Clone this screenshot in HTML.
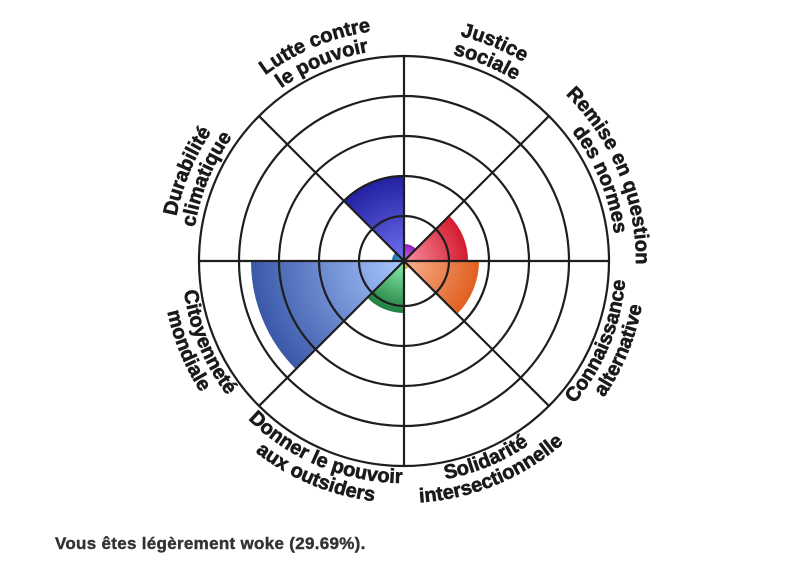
<!DOCTYPE html>
<html><head><meta charset="utf-8"><style>
html,body{margin:0;padding:0;background:#fff;width:806px;height:561px;overflow:hidden}
svg{position:absolute;left:0;top:0}
.l{font-family:"Liberation Sans",sans-serif;font-weight:bold;font-size:20px;fill:#1a1a1a;stroke:#1a1a1a;stroke-width:0.6px}
#t{position:absolute;left:55px;top:534px;font-family:"Liberation Sans",sans-serif;font-weight:bold;font-size:17px;color:#333;letter-spacing:0.3px;white-space:nowrap;-webkit-text-stroke:0.4px #333}
</style></head><body>
<svg width="806" height="561" viewBox="0 0 806 561">
<defs>
<path id="u1" d="M-200.9,-116 A232,232 0 0 1 200.9,-116"/>
<path id="u2" d="M-183.6,-106 A212,212 0 0 1 183.6,-106"/>
<path id="d1" d="M-192.3,111 A222,222 0 0 0 192.3,111"/>
<path id="d2" d="M-209.6,121 A242,242 0 0 0 209.6,121"/>
<radialGradient id="gP" gradientUnits="userSpaceOnUse" cx="0" cy="0" r="17"><stop offset="0" stop-color="#d070f0"/><stop offset="1" stop-color="#9020c0"/></radialGradient>
<radialGradient id="gR" gradientUnits="userSpaceOnUse" cx="0" cy="0" r="64"><stop offset="0" stop-color="#f890a0"/><stop offset="1" stop-color="#d41c30"/></radialGradient>
<radialGradient id="gO" gradientUnits="userSpaceOnUse" cx="0" cy="0" r="75"><stop offset="0" stop-color="#f8b090"/><stop offset="1" stop-color="#e06020"/></radialGradient>
<radialGradient id="gY" gradientUnits="userSpaceOnUse" cx="0" cy="0" r="8"><stop offset="0" stop-color="#f8e060"/><stop offset="1" stop-color="#e8b800"/></radialGradient>
<radialGradient id="gG" gradientUnits="userSpaceOnUse" cx="0" cy="0" r="52"><stop offset="0" stop-color="#90f0b0"/><stop offset="1" stop-color="#208040"/></radialGradient>
<radialGradient id="gB" gradientUnits="userSpaceOnUse" cx="0" cy="0" r="153"><stop offset="0" stop-color="#a8c8ff"/><stop offset="1" stop-color="#3a58a8"/></radialGradient>
<radialGradient id="gT" gradientUnits="userSpaceOnUse" cx="0" cy="0" r="12"><stop offset="0" stop-color="#50b0e0"/><stop offset="1" stop-color="#2070b0"/></radialGradient>
<radialGradient id="gD" gradientUnits="userSpaceOnUse" cx="0" cy="0" r="86"><stop offset="0" stop-color="#7070f0"/><stop offset="1" stop-color="#2020a0"/></radialGradient>
</defs>
<g transform="translate(404,261)">
<path d="M0,0 L0,-17 A17,17 0 0 1 12.02,-12.02Z" fill="url(#gP)"/>
<path d="M0,0 L45.25,-45.25 A64,64 0 0 1 64,0Z" fill="url(#gR)"/>
<path d="M0,0 L75,0 A75,75 0 0 1 53.03,53.03Z" fill="url(#gO)"/>
<path d="M0,0 L5.66,5.66 A8,8 0 0 1 0,8Z" fill="url(#gY)"/>
<path d="M0,0 L0,52 A52,52 0 0 1 -36.77,36.77Z" fill="url(#gG)"/>
<path d="M0,0 L-108.19,108.19 A153,153 0 0 1 -153,0Z" fill="url(#gB)"/>
<path d="M0,0 L-12,0 A12,12 0 0 1 -8.49,-8.49Z" fill="url(#gT)"/>
<path d="M0,0 L-60.81,-60.81 A86,86 0 0 1 0,-86Z" fill="url(#gD)"/>
<g fill="none" stroke="#1e1e1e" stroke-width="2.2">
<circle r="45"/><circle r="85"/><circle r="125"/><circle r="165"/><circle r="205"/>
<line x1="-205" y1="0" x2="205" y2="0"/><line x1="0" y1="-205" x2="0" y2="205"/>
<line x1="-144.96" y1="-144.96" x2="144.96" y2="144.96"/><line x1="-144.96" y1="144.96" x2="144.96" y2="-144.96"/>
</g>
<g transform="rotate(-22.5)"><text class="l"><textPath href="#u1" startOffset="50%" text-anchor="middle">Lutte contre</textPath></text><text class="l"><textPath href="#u2" startOffset="50%" text-anchor="middle">le pouvoir</textPath></text></g>
<g transform="rotate(22.5)"><text class="l"><textPath href="#u1" startOffset="50%" text-anchor="middle">Justice</textPath></text><text class="l"><textPath href="#u2" startOffset="50%" text-anchor="middle">sociale</textPath></text></g>
<g transform="rotate(67.5)"><text class="l"><textPath href="#u1" startOffset="50%" text-anchor="middle">Remise en question</textPath></text><text class="l"><textPath href="#u2" startOffset="50%" text-anchor="middle">des normes</textPath></text></g>
<g transform="rotate(-67.5)"><text class="l"><textPath href="#u1" startOffset="50%" text-anchor="middle">Durabilité</textPath></text><text class="l"><textPath href="#u2" startOffset="50%" text-anchor="middle">climatique</textPath></text></g>
<g transform="rotate(-67.5)"><text class="l"><textPath href="#d1" startOffset="50%" text-anchor="middle">Connaissance</textPath></text><text class="l"><textPath href="#d2" startOffset="50%" text-anchor="middle">alternative</textPath></text></g>
<g transform="rotate(-22.5)"><text class="l"><textPath href="#d1" startOffset="50%" text-anchor="middle">Solidarité</textPath></text><text class="l"><textPath href="#d2" startOffset="50%" text-anchor="middle">intersectionnelle</textPath></text></g>
<g transform="rotate(22.5)"><text class="l"><textPath href="#d1" startOffset="50%" text-anchor="middle">Donner le pouvoir</textPath></text><text class="l"><textPath href="#d2" startOffset="50%" text-anchor="middle">aux outsiders</textPath></text></g>
<g transform="rotate(67.5)"><text class="l"><textPath href="#d1" startOffset="50%" text-anchor="middle">Citoyenneté</textPath></text><text class="l"><textPath href="#d2" startOffset="50%" text-anchor="middle">mondiale</textPath></text></g>
</g>
</svg>
<div id="t">Vous êtes légèrement woke (29.69%).</div>
</body></html>
